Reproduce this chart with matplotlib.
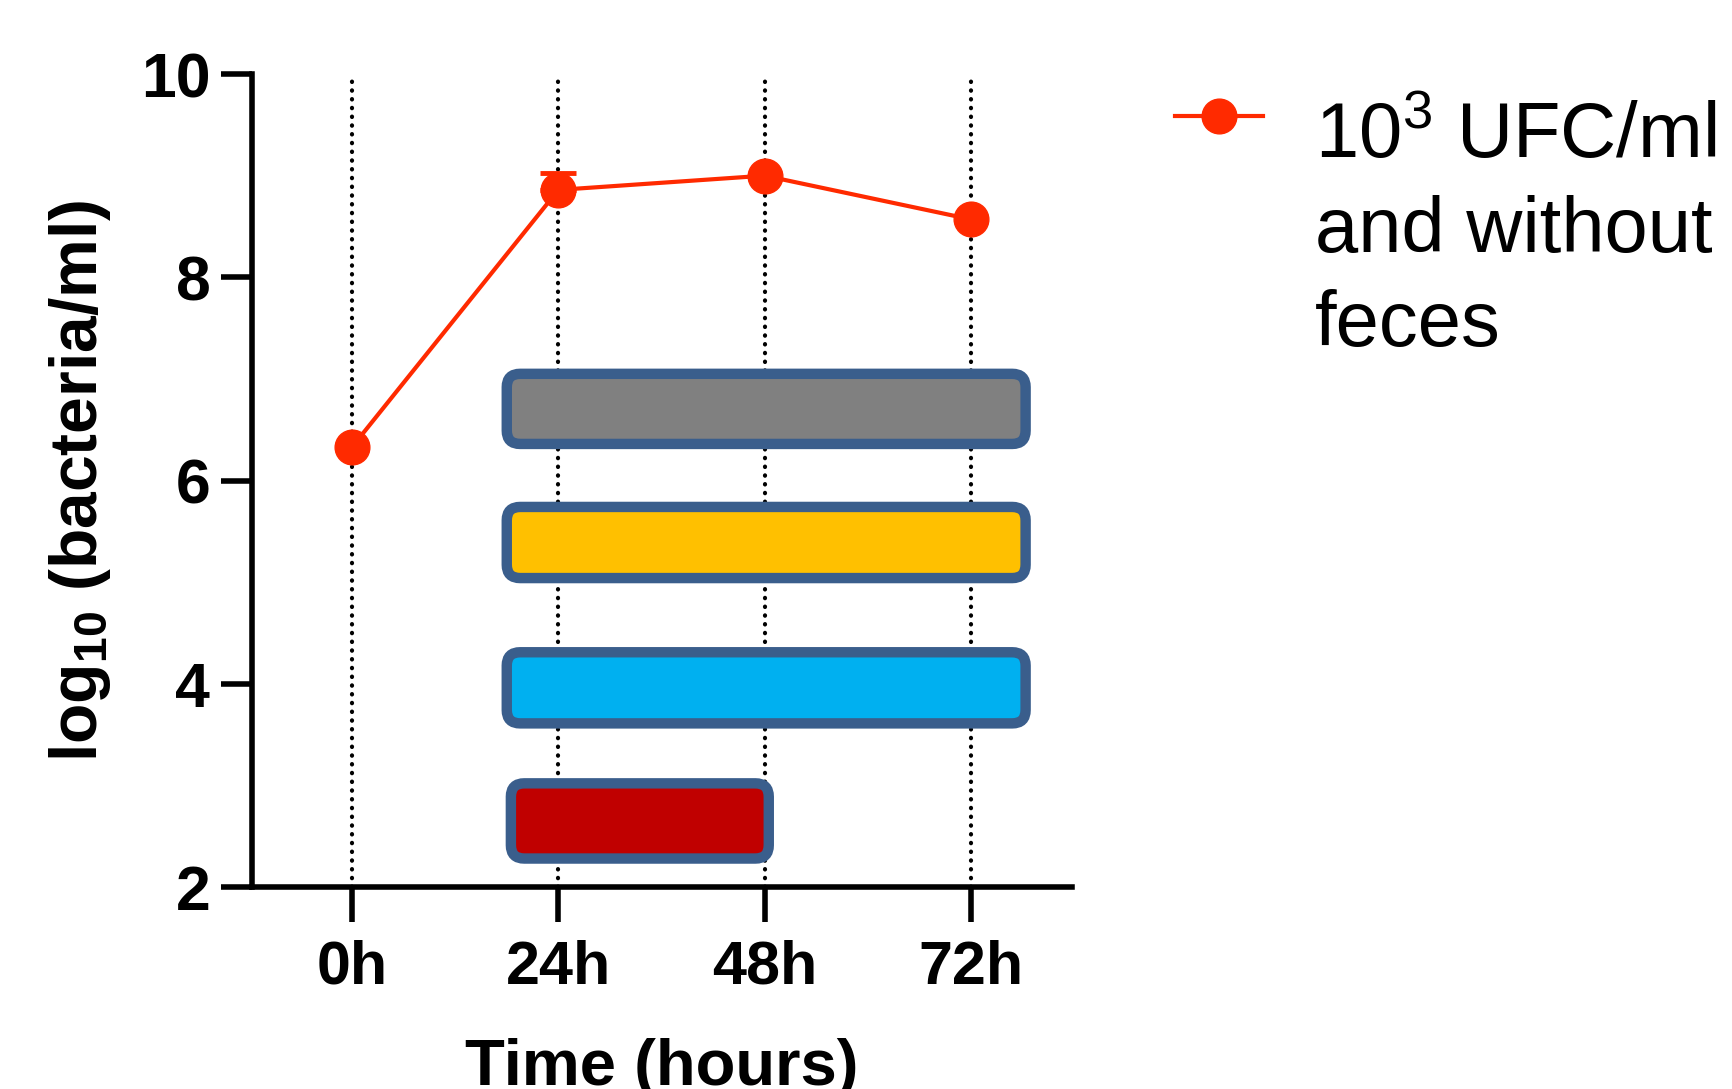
import matplotlib.pyplot as plt
from matplotlib.patches import FancyBboxPatch
from matplotlib.lines import Line2D

# ---- data ----
time_labels = ['0h', '24h', '48h', '72h']
time_pos = [0, 1, 2, 3]
log_counts = [6.33, 8.86, 9.0, 8.57]
log_err = [0.0, 0.17, 0.0, 0.0]

# coloured period bars (x in time-slot units, y in log10 units)
bar_colors = ['#808080', '#FFC000', '#00B0F0', '#C00000']
bar_start = [0.75, 0.75, 0.75, 0.77]
bar_end = [3.265, 3.265, 3.265, 2.02]
bar_low = [6.36, 5.04, 3.61, 2.28]
bar_high = [7.05, 5.74, 4.31, 3.02]

legend_lines = ['10$^{3}$ UFC/ml', 'and without', 'feces']

# ---- style ----
plt.rcParams['font.family'] = ['Liberation Sans', 'DejaVu Sans']
plt.rcParams['mathtext.fontset'] = 'custom'
plt.rcParams['mathtext.rm'] = 'Liberation Sans'
plt.rcParams['mathtext.bf'] = 'Liberation Sans:bold'
plt.rcParams['mathtext.it'] = 'Liberation Sans:italic'

line_col = '#FF2A00'
edge_col = '#3A5E8C'

fig = plt.figure(figsize=(17.33, 10.89), dpi=100)
ax = fig.add_axes([0.1454, 0.1855, 0.4732, 0.7465])

xlim = (-0.485, 3.49)
ylim = (2, 10)
ax.set_xlim(*xlim)
ax.set_ylim(*ylim)

# dotted guide lines
for x in time_pos:
    ax.axvline(x, color='black', lw=3, linestyle=(0, (0.1, 2.0)),
               dash_capstyle='round', zorder=1)

# rounded bars
fig_w, fig_h = fig.get_size_inches() * fig.dpi
ax_w = 0.4732 * fig_w
ax_h = 0.7465 * fig_h
x_per_px = (xlim[1] - xlim[0]) / ax_w
y_per_px = (ylim[1] - ylim[0]) / ax_h
aspect = y_per_px / x_per_px
for c, x0, x1, y0, y1 in zip(bar_colors, bar_start, bar_end, bar_low, bar_high):
    box = FancyBboxPatch((x0, y0), x1 - x0, y1 - y0,
                         boxstyle='round,pad=0,rounding_size=0.065',
                         mutation_aspect=aspect,
                         facecolor=c, edgecolor=edge_col, lw=7.5, zorder=2)
    ax.add_patch(box)

# data line
ax.plot(time_pos, log_counts, color=line_col, lw=3, marker='o', ms=25,
        zorder=6, clip_on=False)
for x, y, e in zip(time_pos, log_counts, log_err):
    if e > 0:
        ax.errorbar([x], [y], yerr=[[0], [e]], color=line_col, elinewidth=3,
                    capsize=13, capthick=3.5, fmt='none', zorder=5)

# axes styling
for s in ['top', 'right']:
    ax.spines[s].set_visible(False)
for s in ['left', 'bottom']:
    ax.spines[s].set_linewidth(4)

ax.set_xticks(time_pos)
ax.set_xticklabels(time_labels)
ax.set_yticks([2, 4, 6, 8, 10])
ax.tick_params(axis='x', length=25, width=4, pad=13, labelsize=44)
ax.tick_params(axis='y', length=22, width=4, pad=8, labelsize=45)
for lab in ax.get_xticklabels() + ax.get_yticklabels():
    lab.set_fontweight('bold')

ax.set_xlabel('Time (hours)', fontsize=47, fontweight='bold', labelpad=30)
ax.set_ylabel(r'log$_{\mathbf{10}}$ (bacteria/ml)', fontsize=47.5,
              fontweight='bold', labelpad=20)

# legend drawn by hand so the marker sits on the first text line
ly = 1 - 116 / 1089
fig.add_artist(Line2D([0.678, 0.7034, 0.7288], [ly, ly, ly], transform=fig.transFigure,
                      color=line_col, lw=3, marker='o', ms=25, markevery=[1]))
for i, txt in enumerate(legend_lines):
    fig.text(0.7588, 1 - (158 + 94 * i) / 1089, txt, fontsize=56, ha='left',
             va='baseline')

fig.savefig('out.png', dpi=100)
